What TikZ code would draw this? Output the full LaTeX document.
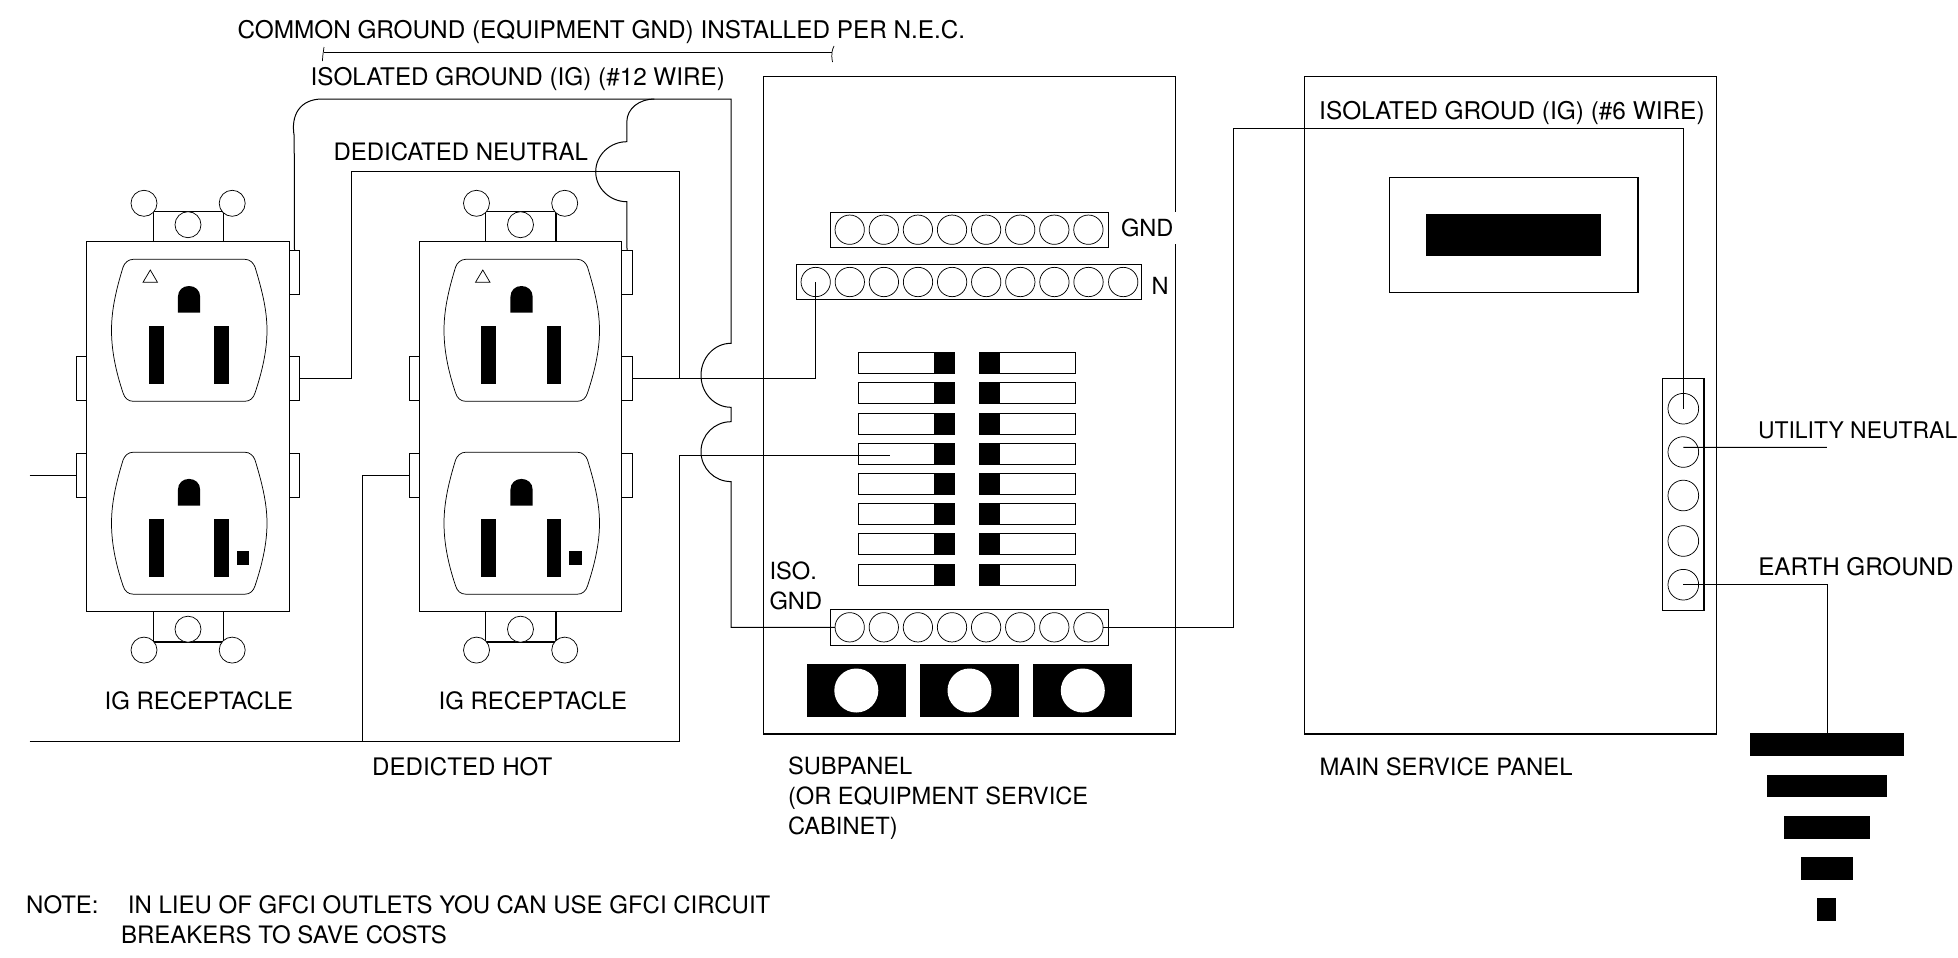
\documentclass[tikz,border=0pt]{standalone}
\usepackage{fontspec}
\setmainfont{TeX Gyre Heros}
\usepackage{tikz}

\begin{document}
\begin{tikzpicture}[x=0.75pt,y=0.75pt,yscale=-1,xscale=1,
  wire/.style={line width=0.75pt},
  outline/.style={line width=0.8pt},
  thinline/.style={line width=0.55pt},
  tabbox/.style={draw,line width=0.7pt,inner sep=0pt,outer sep=0pt,minimum width=7.65pt,minimum height=32.6pt},
  screw/.style={circle,draw,line width=0.55pt,fill=white,inner sep=0pt,outer sep=0pt,minimum size=19.5pt},
  lug/.style={circle,draw,line width=0.55pt,inner sep=0pt,outer sep=0pt,minimum size=22pt},
  mainlug/.style={circle,draw,line width=0.55pt,inner sep=0pt,outer sep=0pt,minimum size=23pt},
  lbl/.style={anchor=base west,inner sep=0pt,outer sep=0pt,font=\fontsize{#1}{22}\selectfont},
  lbl/.default=17.7,
  lbltwo/.style={anchor=north west,inner sep=0pt,outer sep=0pt,align=left,font=\fontsize{17.75}{22.3}\selectfont}]
\useasboundingbox (0,0) rectangle (1958,957);

%Shape: Rectangle (first receptacle plate and ears)
\draw [outline] (86.8,241.7) rectangle (289.4,611.8);
\draw [outline] (153.2,211.7) rectangle (223.5,241.7);
\draw [outline] (153.2,611.8) rectangle (223.5,642);
%Shape: Circle
\node (recOneScrewA) [screw] at (144,203.3) {};
\node (recOneScrewB) [screw] at (232.2,203.3) {};
\node (recOneScrewC) [screw] at (188,224.7) {};
\node (recOneScrewD) [screw] at (188,629.2) {};
\node (recOneScrewE) [screw] at (144,650.1) {};
\node (recOneScrewF) [screw] at (232.2,650.1) {};
%Shape: Rectangle (side terminals)
\node (recOneGnd) [tabbox] at (294.5,272.3) {};
\node (recOneNeu) [tabbox] at (294.5,378.3) {};
\node (recOneLowR) [tabbox] at (294.5,475.3) {};
\node (recOneUpL) [tabbox] at (81.7,378.3) {};
\node (recOneHot) [tabbox] at (81.7,475.3) {};
%Shape: Outlet outline
\draw [thinline] (133.3,259.3) -- (244.8,259.3) .. controls (250,259.3) and (253.5,263) .. (255,267) .. controls (262,290) and (267,310) .. (267,330.3) .. controls (267,351) and (262,372) .. (255,393) .. controls (253.5,398) and (250,401.3) .. (244.8,401.3) -- (133.3,401.3) .. controls (128.1,401.3) and (124.6,398) .. (123.1,393) .. controls (116,372) and (111.5,351) .. (111.5,330.3) .. controls (111.5,310) and (116,290) .. (123.1,267) .. controls (124.6,263) and (128.1,259.3) .. (133.3,259.3) -- cycle ;
\draw [thinline,shift={(0,192.9)}] (133.3,259.3) -- (244.8,259.3) .. controls (250,259.3) and (253.5,263) .. (255,267) .. controls (262,290) and (267,310) .. (267,330.3) .. controls (267,351) and (262,372) .. (255,393) .. controls (253.5,398) and (250,401.3) .. (244.8,401.3) -- (133.3,401.3) .. controls (128.1,401.3) and (124.6,398) .. (123.1,393) .. controls (116,372) and (111.5,351) .. (111.5,330.3) .. controls (111.5,310) and (116,290) .. (123.1,267) .. controls (124.6,263) and (128.1,259.3) .. (133.3,259.3) -- cycle ;
%Shape: Triangle
\draw [thinline] (150.3,270) -- (143,282.3) -- (157.5,282.3) -- cycle ;
%Shape: Slots
\fill (177.9,312.7) -- (177.9,297) .. controls (177.9,290) and (183,286) .. (189,286) .. controls (195,286) and (200.2,290) .. (200.2,297) -- (200.2,312.7) -- cycle ;
\fill (148.8,326) rectangle (163.8,384.3);
\fill (214.2,326) rectangle (228.8,384.3);
\fill [shift={(0,192.9)}] (177.9,312.7) -- (177.9,297) .. controls (177.9,290) and (183,286) .. (189,286) .. controls (195,286) and (200.2,290) .. (200.2,297) -- (200.2,312.7) -- cycle ;
\fill (148.8,518.6) rectangle (163.8,576.8);
\fill (214.2,518.6) rectangle (228.8,576.8);
\fill (236.5,551) rectangle (249.2,564.9);

\begin{scope}[shift={(332.5,0)}]
%Shape: Rectangle (second receptacle plate and ears)
\draw [outline] (86.8,241.7) rectangle (289.4,611.8);
\draw [outline] (153.2,211.7) rectangle (223.5,241.7);
\draw [outline] (153.2,611.8) rectangle (223.5,642);
%Shape: Circle
\node (recTwoScrewA) [screw] at (144,203.3) {};
\node (recTwoScrewB) [screw] at (232.2,203.3) {};
\node (recTwoScrewC) [screw] at (188,224.7) {};
\node (recTwoScrewD) [screw] at (188,629.2) {};
\node (recTwoScrewE) [screw] at (144,650.1) {};
\node (recTwoScrewF) [screw] at (232.2,650.1) {};
%Shape: Rectangle (side terminals)
\node (recTwoGnd) [tabbox] at (294.5,272.3) {};
\node (recTwoNeu) [tabbox] at (294.5,378.3) {};
\node (recTwoLowR) [tabbox] at (294.5,475.3) {};
\node (recTwoUpL) [tabbox] at (81.7,378.3) {};
\node (recTwoHot) [tabbox] at (81.7,475.3) {};
%Shape: Outlet outline
\draw [thinline] (133.3,259.3) -- (244.8,259.3) .. controls (250,259.3) and (253.5,263) .. (255,267) .. controls (262,290) and (267,310) .. (267,330.3) .. controls (267,351) and (262,372) .. (255,393) .. controls (253.5,398) and (250,401.3) .. (244.8,401.3) -- (133.3,401.3) .. controls (128.1,401.3) and (124.6,398) .. (123.1,393) .. controls (116,372) and (111.5,351) .. (111.5,330.3) .. controls (111.5,310) and (116,290) .. (123.1,267) .. controls (124.6,263) and (128.1,259.3) .. (133.3,259.3) -- cycle ;
\draw [thinline,shift={(0,192.9)}] (133.3,259.3) -- (244.8,259.3) .. controls (250,259.3) and (253.5,263) .. (255,267) .. controls (262,290) and (267,310) .. (267,330.3) .. controls (267,351) and (262,372) .. (255,393) .. controls (253.5,398) and (250,401.3) .. (244.8,401.3) -- (133.3,401.3) .. controls (128.1,401.3) and (124.6,398) .. (123.1,393) .. controls (116,372) and (111.5,351) .. (111.5,330.3) .. controls (111.5,310) and (116,290) .. (123.1,267) .. controls (124.6,263) and (128.1,259.3) .. (133.3,259.3) -- cycle ;
%Shape: Triangle
\draw [thinline] (150.3,270) -- (143,282.3) -- (157.5,282.3) -- cycle ;
%Shape: Slots
\fill (177.9,312.7) -- (177.9,297) .. controls (177.9,290) and (183,286) .. (189,286) .. controls (195,286) and (200.2,290) .. (200.2,297) -- (200.2,312.7) -- cycle ;
\fill (148.8,326) rectangle (163.8,384.3);
\fill (214.2,326) rectangle (228.8,384.3);
\fill [shift={(0,192.9)}] (177.9,312.7) -- (177.9,297) .. controls (177.9,290) and (183,286) .. (189,286) .. controls (195,286) and (200.2,290) .. (200.2,297) -- (200.2,312.7) -- cycle ;
\fill (148.8,518.6) rectangle (163.8,576.8);
\fill (214.2,518.6) rectangle (228.8,576.8);
\fill (236.5,551) rectangle (249.2,564.9);
\end{scope}

%Shape: Rectangle (subpanel, bars)
\draw [outline] (763.7,76.7) rectangle (1175.7,734);
\draw [outline] (830.2,212.3) rectangle (1108.8,247.3);
\draw [outline] (796.2,264.7) rectangle (1141.3,299.7);
\draw [outline] (830.2,609.7) rectangle (1108.8,645.3);
%Shape: Circle (GND bar)
\node (gndA) [lug] at (849.7,229.7) {};
\node (gndB) [lug] at (883.8,229.7) {};
\node (gndC) [lug] at (917.9,229.7) {};
\node (gndD) [lug] at (952,229.7) {};
\node (gndE) [lug] at (986.1,229.7) {};
\node (gndF) [lug] at (1020.2,229.7) {};
\node (gndG) [lug] at (1054.3,229.7) {};
\node (gndH) [lug] at (1088.4,229.7) {};
%Shape: Circle (N bar)
\node (neuA) [lug] at (815.7,282) {};
\node (neuB) [lug] at (849.8,282) {};
\node (neuC) [lug] at (883.9,282) {};
\node (neuD) [lug] at (918,282) {};
\node (neuE) [lug] at (952.1,282) {};
\node (neuF) [lug] at (986.2,282) {};
\node (neuG) [lug] at (1020.3,282) {};
\node (neuH) [lug] at (1054.4,282) {};
\node (neuI) [lug] at (1088.5,282) {};
\node (neuJ) [lug] at (1123.2,282) {};
%Shape: Circle (ISO GND bar)
\node (isoA) [lug] at (849.7,627.3) {};
\node (isoB) [lug] at (883.8,627.3) {};
\node (isoC) [lug] at (917.9,627.3) {};
\node (isoD) [lug] at (952,627.3) {};
\node (isoE) [lug] at (986.1,627.3) {};
\node (isoF) [lug] at (1020.2,627.3) {};
\node (isoG) [lug] at (1054.3,627.3) {};
\node (isoH) [lug] at (1088.4,627.3) {};

%Shape: Rectangle (left breakers)
\draw [outline] (858.3,352.7) rectangle (954.3,373.7);
\draw [outline] (858.3,382.9) rectangle (954.3,403.9);
\draw [outline] (858.3,413.1) rectangle (954.3,434.1);
\draw [outline] (858.3,443.3) rectangle (954.3,464.3);
\draw [outline] (858.3,473.5) rectangle (954.3,494.5);
\draw [outline] (858.3,503.7) rectangle (954.3,524.7);
\draw [outline] (858.3,533.9) rectangle (954.3,554.9);
\draw [outline] (858.3,564.1) rectangle (954.3,585.1);
\fill (934,352.7) rectangle (954.3,373.7);
\fill (934,382.9) rectangle (954.3,403.9);
\fill (934,413.1) rectangle (954.3,434.1);
\fill (934,443.3) rectangle (954.3,464.3);
\fill (934,473.5) rectangle (954.3,494.5);
\fill (934,503.7) rectangle (954.3,524.7);
\fill (934,533.9) rectangle (954.3,554.9);
\fill (934,564.1) rectangle (954.3,585.1);
%Shape: Rectangle (right breakers)
\draw [outline] (979.7,352.7) rectangle (1075.7,373.7);
\draw [outline] (979.7,382.9) rectangle (1075.7,403.9);
\draw [outline] (979.7,413.1) rectangle (1075.7,434.1);
\draw [outline] (979.7,443.3) rectangle (1075.7,464.3);
\draw [outline] (979.7,473.5) rectangle (1075.7,494.5);
\draw [outline] (979.7,503.7) rectangle (1075.7,524.7);
\draw [outline] (979.7,533.9) rectangle (1075.7,554.9);
\draw [outline] (979.7,564.1) rectangle (1075.7,585.1);
\fill (979.7,352.7) rectangle (1000,373.7);
\fill (979.7,382.9) rectangle (1000,403.9);
\fill (979.7,413.1) rectangle (1000,434.1);
\fill (979.7,443.3) rectangle (1000,464.3);
\fill (979.7,473.5) rectangle (1000,494.5);
\fill (979.7,503.7) rectangle (1000,524.7);
\fill (979.7,533.9) rectangle (1000,554.9);
\fill (979.7,564.1) rectangle (1000,585.1);

%Shape: Rectangle (knockouts)
\fill (807,664.3) rectangle (905.7,716.7);
\fill (920,664.3) rectangle (1019,716.7);
\fill (1033.3,664.3) rectangle (1132.3,716.7);
%Shape: Circle
\fill [white] (856.3,690.5) circle (22);
\fill [white] (969.5,690.5) circle (22);
\fill [white] (1082.8,690.5) circle (22);

%Shape: Rectangle (main service panel)
\draw [outline] (1304.6,76.7) rectangle (1716.7,734);
\draw [outline] (1389.4,177.3) rectangle (1638,292.3);
\fill (1426.1,213.7) rectangle (1601.2,255.7);
\draw [outline] (1662.7,378.3) rectangle (1704,610.3);
%Shape: Circle
\node (mainA) [mainlug] at (1683.3,408.7) {};
\node (mainB) [mainlug] at (1683.3,452) {};
\node (mainC) [mainlug] at (1683.3,495.5) {};
\node (mainD) [mainlug] at (1683.3,541) {};
\node (mainE) [mainlug] at (1683.3,584.7) {};

%Shape: Rectangle (earth rod)
\coordinate (earthTop) at (1827,733.3);
\fill (1750,733.3) rectangle (1903.7,756);
\fill (1767,774.7) rectangle (1886.7,797.3);
\fill (1784,816) rectangle (1870,838.7);
\fill (1801,857.3) rectangle (1853,880);
\fill (1817.3,898.3) rectangle (1836.3,921);

\coordinate (igTee) at (654.4,99);
\coordinate (neuTee) at (679.6,378.3);
\coordinate (hotTee) at (362.6,741.6);
\coordinate (hotFree) at (29.6,741.6);
\coordinate (hotEnd) at (890,455.3);
\coordinate (feedFree) at (29.6,475.3);
\coordinate (utilEnd) at (1826.9,447.3);

%Straight Lines (isolated ground)
\draw [wire] (recOneGnd.north) -- (294.2,136) .. controls (290.5,115) and (300,99) .. (322.3,99) -- (731,99) -- (731,343.3) .. controls (714.4,343.3) and (701,357.6) .. (701,375.3) .. controls (701,393) and (714.4,407.3) .. (731,407.3) -- (731,421.7) .. controls (714.4,421.7) and (701,435) .. (701,451.6) .. controls (701,468.2) and (714.4,481.6) .. (731,481.6) -- (731,627.3) -- (isoA.west) ;
\draw [wire] (recTwoGnd.north) -- (626.8,201.7) .. controls (610,201.7) and (595.7,188.3) .. (595.7,171.7) .. controls (595.7,155.1) and (610,141.7) .. (626.8,141.7) -- (626.8,122) .. controls (626.8,108) and (640,99) .. (igTee) ;
%Straight Lines (neutral)
\draw [wire] (recOneNeu.east) -- (351,378.3) -- (351,171.3) -- (679.6,171.3) -- (neuTee) ;
\draw [wire] (recTwoNeu.east) -| (neuA.center) ;
%Straight Lines (hot)
\draw [wire] (hotFree) -- (679.6,741.6) -- (679.6,455.3) -- (hotEnd) ;
\draw [wire] (hotTee) |- (recTwoHot.west) ;
\draw [wire] (feedFree) -- (recOneHot.west) ;
%Straight Lines (panel feed)
\draw [wire] (isoH.east) -- (1233.3,627.3) -- (1233.3,128.7) -- (1683.3,128.7) -- (mainA.center) ;
\draw [wire] (mainB.center) ++(0,-4.7) -- (utilEnd) ;
\draw [wire] (mainE.center) -| (earthTop) ;
%Straight Lines (common ground bracket)
\coordinate (commonLeft) at (324,52.3);
\coordinate (commonRight) at (831.7,52.3);
\draw [wire] (commonLeft) -- (commonRight) ;
\draw [thinline] (324,47) .. controls (323.5,52) and (322.5,55) .. (322.5,61) ;
\draw [thinline] (834,46) .. controls (832,50) and (831,54) .. (832.5,62) ;

% Text Node
\node (commonLbl) [lbl=18.25] at (237.5,38.3) {COMMON GROUND (EQUIPMENT GND) INSTALLED PER N.E.C.};
% Text Node
\node (isoLbl) [lbl=18.2] at (310.6,85) {ISOLATED GROUND (IG) (\#12 WIRE)};
% Text Node
\node (neuLbl) [lbl=18] at (333.5,160) {DEDICATED NEUTRAL};
% Text Node
\node (recOneLbl) [lbl=17.95] at (104.7,709.4) {IG RECEPTACLE};
% Text Node
\node (recTwoLbl) [lbl=17.95] at (438.7,709.4) {IG RECEPTACLE};
% Text Node
\node (hotLbl) [lbl=18.1] at (372.2,775.5) {DEDICTED HOT};
% Text Node
\node (noteLbl) [lbl=18] at (26.2,913) {NOTE:\hspace{22pt}IN LIEU OF GFCI OUTLETS YOU CAN USE GFCI CIRCUIT};
% Text Node
\node (noteLblTwo) [lbl=18] at (121,943.3) {BREAKERS TO SAVE COSTS};
% Text Node
\node (gndLbl) [lbl,fill=white,inner xsep=2.4pt,inner ysep=5pt] at (1117.8,236.7) {GND};
% Text Node
\node (nLbl) [lbl] at (1151.7,294) {N};
% Text Node
\node (isoGndLbl) [lbltwo] at (769.5,562) {ISO.\\GND};
% Text Node
\node (subLbl) [lbltwo] at (788,757) {SUBPANEL\\(OR EQUIPMENT SERVICE\\CABINET)};
% Text Node
\node (mainLbl) [lbl=17.9] at (1319.5,775) {MAIN SERVICE PANEL};
% Text Node
\node (isoSixLbl) [lbl=18.3] at (1319.2,119.3) {ISOLATED GROUD (IG) (\#6 WIRE)};
% Text Node
\node (utilLbl) [lbl=17.2] at (1758,438.3) {UTILITY NEUTRAL};
% Text Node
\node (earthLbl) [lbl=18.15] at (1758.3,575) {EARTH GROUND};

\end{tikzpicture}
\end{document}
